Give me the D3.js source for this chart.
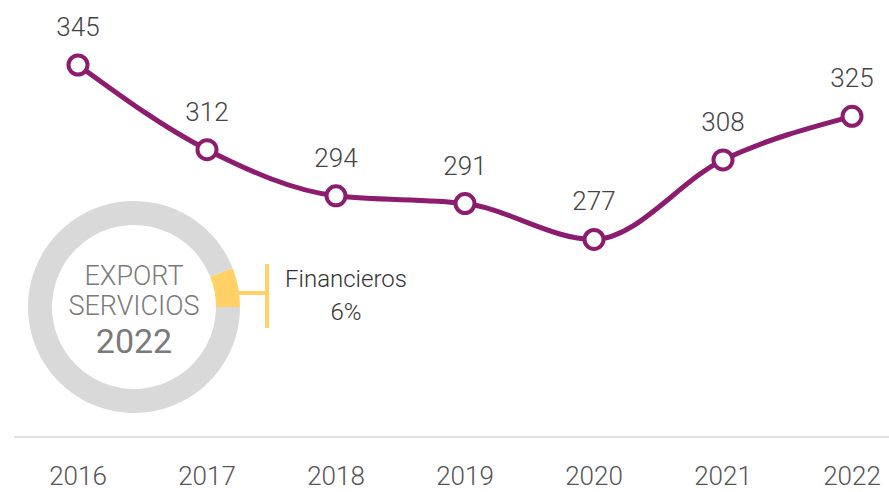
<!DOCTYPE html>
<html>
<head>
<meta charset="utf-8">
<script src="https://cdn.jsdelivr.net/npm/d3@7"></script>
<style>
  body { margin: 0; background: #fff; }
  svg { display: block; font-family: Roboto, "Open Sans", sans-serif; }
</style>
</head>
<body>
<div id="root"></div>
<script>
const years = ["2016", "2017", "2018", "2019", "2020", "2021", "2022"];
const values = [345, 312, 294, 291, 277, 308, 325];
const donutLabels = ["Financieros", "Resto"];
const donutShares = [6, 94];

chart();

function chart() {
  const width = 889;
  const height = 492;
  const purple = "#8c1c6e";

  const svg = d3.select("#root").append("svg")
    .attr("width", width)
    .attr("height", height);

  const x = d3.scalePoint(years, [78, 852]);
  const y = d3.scaleLinear([200, 345], [437, 65]);

  // base line
  svg.append("line")
    .attr("x1", 14)
    .attr("x2", width)
    .attr("y1", y(200))
    .attr("y2", y(200))
    .attr("stroke", "#e2e2e2")
    .attr("stroke-width", 2);

  svg.append("g")
    .selectAll("text")
    .data(years)
    .join("text")
    .attr("x", d => x(d))
    .attr("y", 485)
    .attr("text-anchor", "middle")
    .attr("font-size", 26)
    .attr("font-weight", 300)
    .attr("fill", "#555")
    .text(d => d);

  // donut
  const cx = 134;
  const cy = 307;
  const pie = d3.pie()
    .sort(null)
    .startAngle(Math.PI / 2 - 2 * Math.PI * donutShares[0] / 100)
    .endAngle(Math.PI / 2 + 2 * Math.PI * donutShares[1] / 100);
  const arc = d3.arc().innerRadius(82).outerRadius(106);
  const donutColors = ["#ffd166", "#d9d9d9"];

  const donut = svg.append("g")
    .attr("transform", `translate(${cx},${cy})`);

  donut.selectAll("path")
    .data(pie(donutShares))
    .join("path")
    .attr("d", arc)
    .attr("fill", (d, i) => donutColors[i]);

  donut.selectAll("text")
    .data([
      { text: "EXPORT", y: -22, size: 27, weight: 300 },
      { text: "SERVICIOS", y: 8, size: 27, weight: 300 },
      { text: "2022", y: 46, size: 34, weight: 400 },
    ])
    .join("text")
    .attr("x", 0)
    .attr("y", d => d.y)
    .attr("text-anchor", "middle")
    .attr("font-size", d => d.size)
    .attr("font-weight", d => d.weight)
    .attr("fill", "#7a7a7a")
    .text(d => d.text);

  // bracket for the financial slice
  const bracket = svg.append("g")
    .attr("stroke", "#ffd166")
    .attr("stroke-width", 4);
  bracket.append("line")
    .attr("x1", cx + 104).attr("x2", 268)
    .attr("y1", 293).attr("y2", 293);
  bracket.append("line")
    .attr("x1", 267).attr("x2", 267)
    .attr("y1", 264).attr("y2", 328);

  svg.append("g")
    .selectAll("text")
    .data([donutLabels[0], `${donutShares[0]}%`])
    .join("text")
    .attr("x", 346)
    .attr("y", (d, i) => 287 + i * 33)
    .attr("text-anchor", "middle")
    .attr("font-size", 24)
    .attr("font-weight", 300)
    .attr("fill", "#333")
    .text(d => d);

  // line
  const line = d3.line()
    .x((d, i) => x(years[i]))
    .y(d => y(d))
    .curve(d3.curveMonotoneX);

  svg.append("path")
    .datum(values)
    .attr("fill", "none")
    .attr("stroke", purple)
    .attr("stroke-width", 5)
    .attr("d", line);

  svg.append("g")
    .selectAll("circle")
    .data(values)
    .join("circle")
    .attr("cx", (d, i) => x(years[i]))
    .attr("cy", d => y(d))
    .attr("r", 9.5)
    .attr("fill", "#fff")
    .attr("stroke", purple)
    .attr("stroke-width", 4);

  svg.append("g")
    .selectAll("text")
    .data(values)
    .join("text")
    .attr("x", (d, i) => x(years[i]))
    .attr("y", d => y(d) - 29)
    .attr("text-anchor", "middle")
    .attr("font-size", 26)
    .attr("font-weight", 300)
    .attr("fill", "#444")
    .text(d => d);
}
</script>
</body>
</html>
